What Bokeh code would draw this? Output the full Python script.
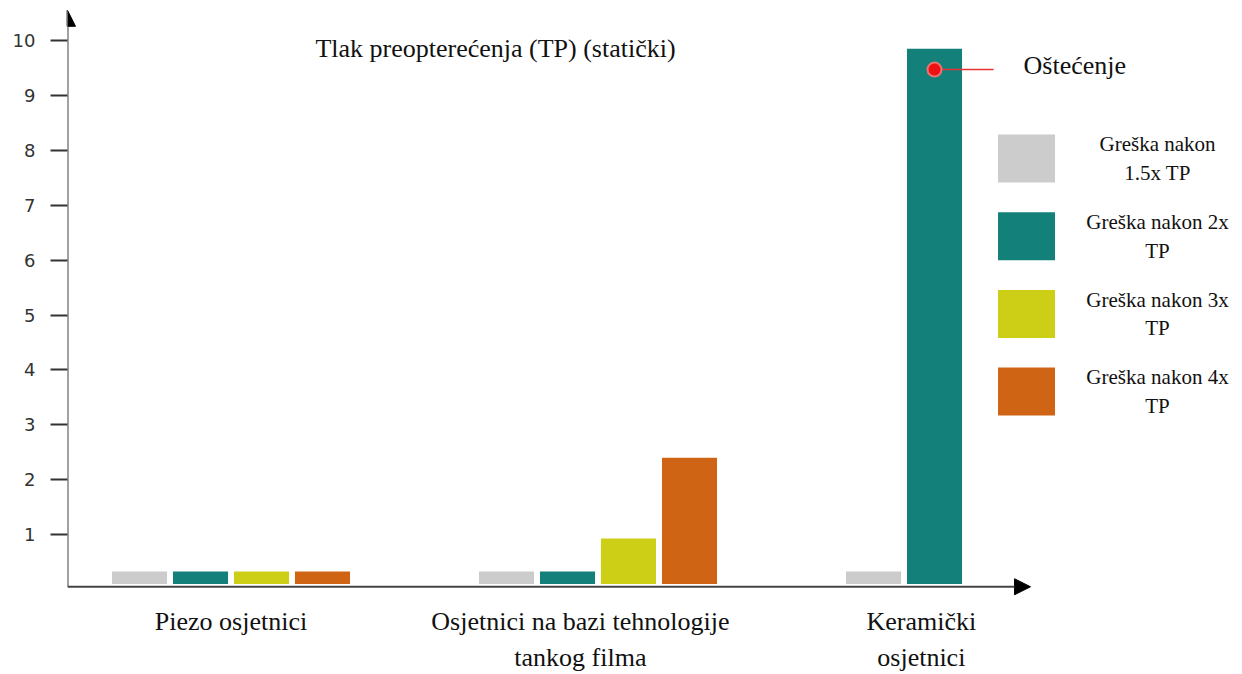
from bokeh.plotting import figure
from bokeh.models import (ColumnDataSource, Range1d, FixedTicker, Arrow, NormalHead,
                          Label)
from bokeh.core.properties import value
from bokeh.embed import file_html
from bokeh.resources import INLINE

# ---------------- data ----------------
categories = ["Piezo osjetnici",
              "Osjetnici na bazi tehnologije\ntankog filma",
              "Keramički\nosjetnici"]
series_labels = ["Greška nakon\n1.5x TP", "Greška nakon 2x\nTP",
                 "Greška nakon 3x\nTP", "Greška nakon 4x\nTP"]
err_1_5x = [0.33, 0.33, 0.33]
err_2x = [0.33, 0.33, 9.85]
err_3x = [0.33, 0.93, None]
err_4x = [0.33, 2.4, None]
series_values = [err_1_5x, err_2x, err_3x, err_4x]
y_ticks = [1, 2, 3, 4, 5, 6, 7, 8, 9, 10]
title_text = "Tlak preopterećenja (TP) (statički)"
damage_text = "Oštećenje"
damage_category = 2
damage_series = 1
damage_value = 9.47

# ---------------- style ----------------
colors = ["#CCCCCC", "#13807A", "#CDCF17", "#D06415"]
SERIF = "Liberation Serif"
BAR_STEP = 0.1662
BAR_WIDTH = 0.150
BAR_BASE = 0.1
AXIS_Y = 0.05
label_offsets = [0.0, -0.048, -0.119]

p = figure(width=1242, height=674, output_backend="svg", toolbar_location=None,
           x_range=Range1d(-0.4455, 2.7561), y_range=Range1d(-1.548, 10.565),
           min_border_left=67, min_border_right=0, min_border_top=9,
           min_border_bottom=0)
p.outline_line_color = None
p.xgrid.visible = False
p.ygrid.visible = False
p.xaxis.visible = False

ya = p.yaxis[0]
ya.ticker = FixedTicker(ticks=y_ticks)
ya.axis_line_color = None
ya.major_tick_in = 0
ya.major_tick_out = 17
ya.major_tick_line_color = "#333333"
ya.major_tick_line_width = 2
ya.minor_tick_line_color = None
ya.major_label_standoff = 15
ya.major_label_text_font = "DejaVu Sans"
ya.major_label_text_font_size = "18px"
ya.major_label_text_color = "#333333"

# bars
for si, vals in enumerate(series_values):
    xs, tops = [], []
    for ci, v in enumerate(vals):
        if v is None:
            continue
        xs.append(ci + (si - 1.5) * BAR_STEP)
        tops.append(v)
    src = ColumnDataSource(dict(x=xs, top=tops))
    p.vbar(x="x", top="top", bottom=BAR_BASE, width=BAR_WIDTH, source=src,
           fill_color=colors[si], line_color=None)

# axes with arrows
x0 = p.x_range.start
p.add_layout(Arrow(end=NormalHead(size=16, fill_color="black", line_color="black"),
                   x_start=x0, y_start=AXIS_Y, x_end=x0, y_end=10.55,
                   line_color="#444444", line_width=2))
p.add_layout(Arrow(end=NormalHead(size=16, fill_color="black", line_color="black"),
                   x_start=x0, y_start=AXIS_Y, x_end=2.1785, y_end=AXIS_Y,
                   line_color="#444444", line_width=2))

# category labels
cx = [i + label_offsets[i] for i in range(len(categories))]
p.text(x=cx, y=[-0.31] * len(categories), text=categories,
       text_font=value(SERIF), text_font_size="26px", text_align="center",
       text_baseline="top", text_line_height=1.25, text_color="#111111")

# title
p.add_layout(Label(x=0.7207, y=9.854, text=title_text, text_font=SERIF,
                   text_font_size="26px", text_align="center",
                   text_baseline="alphabetic", text_color="#111111"))

# damage marker
dx = damage_category + (damage_series - 1.5) * BAR_STEP
p.segment(x0=[dx], y0=[damage_value], x1=[dx + 0.161], y1=[damage_value],
          line_color="#E53535", line_width=1.5)
p.scatter(x=[dx], y=[damage_value], size=14, fill_color="#EE1111",
          line_color="#F07070", line_width=2)
p.add_layout(Label(x=2.1594, y=9.545, text=damage_text, text_font=SERIF,
                   text_font_size="26px", text_align="left",
                   text_baseline="alphabetic", text_color="#111111"))

# legend (manual)
LEG_X, LEG_TX, LEG_TOP, LEG_STEP = 2.1676, 2.5245, 7.85, 1.415
ly = [LEG_TOP - i * LEG_STEP for i in range(len(series_labels))]
p.rect(x=[LEG_X] * 4, y=ly, width=57, height=48, width_units="screen",
       height_units="screen", fill_color=colors, line_color=None)
p.text(x=[LEG_TX] * 4, y=ly, text=series_labels, text_font=value(SERIF),
       text_font_size="21px", text_align="center", text_baseline="middle",
       text_line_height=1.2, text_color="#111111")

open("out.html", "w").write(file_html(p, INLINE))
